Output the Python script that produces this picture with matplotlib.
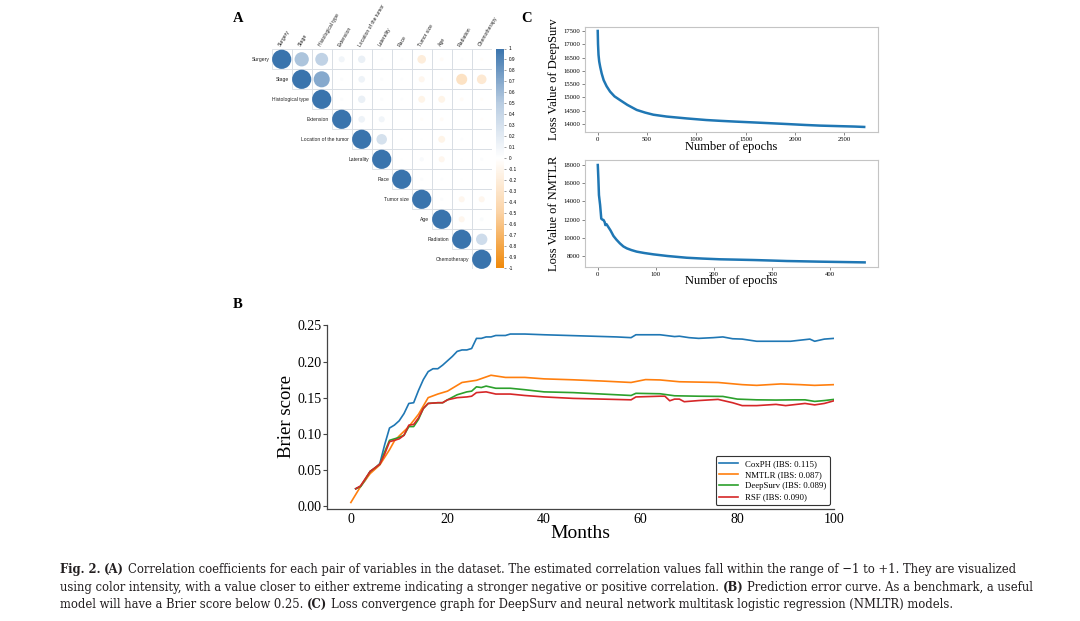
import numpy as np
import matplotlib
matplotlib.use("Agg")
import matplotlib.pyplot as plt
from matplotlib.colors import LinearSegmentedColormap, Normalize
from matplotlib.patches import Circle, Rectangle
import matplotlib.cm as cm

plt.rcParams['font.family'] = ['Liberation Serif', 'DejaVu Serif']

W, H = 1080, 621

# ---------------- data ----------------
# panel A: upper triangle of the correlation matrix, row by row
variables = ["Surgery", "Stage", "Histological type", "Extension", "Location of the tumor",
             "Laterality", "Race", "Tumor size", "Age", "Radiation", "Chemotherapy"]
corr_upper = [
    [1, 0.55, 0.45, 0.10, 0.15, 0.02, 0.02, -0.20, -0.04, 0.02, -0.03],
    [1, 0.70, 0.03, 0.12, 0.03, 0.02, -0.10, -0.03, -0.33, -0.25],
    [1, 0.03, 0.15, 0.03, 0.02, -0.13, -0.13, -0.04, -0.03],
    [1, 0.12, 0.10, 0.00, -0.03, -0.04, 0.00, -0.02],
    [1, 0.30, 0.01, 0.01, -0.13, 0.02, 0.00],
    [1, 0.01, 0.05, -0.10, 0.01, 0.03],
    [1, 0.03, 0.02, 0.01, 0.00],
    [1, 0.03, -0.10, -0.10],
    [1, -0.10, 0.04],
    [1, 0.35],
    [1],
]
cb_ticks = [1, 0.9, 0.8, 0.7, 0.6, 0.5, 0.4, 0.3, 0.2, 0.1, 0, -0.1, -0.2, -0.3, -0.4,
            -0.5, -0.6, -0.7, -0.8, -0.9, -1]
cb_labels = ["1", "0.9", "0.8", "0.7", "0.6", "0.5", "0.4", "0.3", "0.2", "0.1", "0",
             "-0.1", "-0.2", "-0.3", "-0.4", "-0.5", "-0.6", "-0.7", "-0.8", "-0.9", "-1"]

# panel B: Brier score curves
cox_months = [1, 2, 3, 4, 5, 6, 7, 8, 9, 10, 11, 12, 13, 14, 15, 16, 17, 18, 19, 20,
              21, 22, 23, 24, 25, 26, 27, 28, 29, 30, 32, 33, 36, 40, 45, 50, 55, 58,
              59, 60, 64, 67, 68, 70, 72, 75, 77, 79, 81, 84, 88, 91, 95, 96, 98, 100]
cox_bs = [0.024, 0.027, 0.036, 0.048, 0.052, 0.059, 0.085, 0.108, 0.112, 0.118, 0.128,
          0.142, 0.143, 0.160, 0.175, 0.186, 0.190, 0.190, 0.195, 0.201, 0.207, 0.214,
          0.216, 0.216, 0.218, 0.232, 0.232, 0.234, 0.234, 0.236, 0.236, 0.238, 0.238,
          0.237, 0.236, 0.235, 0.234, 0.233, 0.237, 0.237, 0.237, 0.2345, 0.235, 0.233,
          0.232, 0.233, 0.234, 0.2315, 0.231, 0.228, 0.228, 0.228, 0.231, 0.228, 0.231,
          0.232]
nmtlr_months = [0, 2, 4, 6, 8, 9, 10, 12, 14, 16, 18, 20, 22, 23, 26, 29, 32, 36, 40,
                46, 52, 58, 61, 64, 68, 72, 76, 81, 84, 89, 93, 96, 100]
nmtlr_bs = [0.005, 0.027, 0.045, 0.057, 0.078, 0.090, 0.097, 0.110, 0.127, 0.150, 0.155,
            0.159, 0.167, 0.171, 0.174, 0.181, 0.178, 0.178, 0.176, 0.1747, 0.173, 0.171,
            0.175, 0.1745, 0.172, 0.1715, 0.171, 0.168, 0.167, 0.169, 0.168, 0.167, 0.168]
ds_months = [1, 2, 4, 6, 7, 8, 10, 11, 12, 13, 14, 15, 16, 18, 19, 20, 22, 24, 25, 26,
             27, 28, 30, 33, 36, 40, 46, 52, 58, 59, 64, 67, 72, 77, 80, 84, 88, 92, 94,
             96, 98, 100]
ds_bs = [0.024, 0.027, 0.048, 0.058, 0.075, 0.091, 0.095, 0.098, 0.110, 0.110, 0.120,
         0.135, 0.142, 0.143, 0.143, 0.147, 0.154, 0.158, 0.159, 0.165, 0.164, 0.166,
         0.163, 0.163, 0.161, 0.158, 0.157, 0.155, 0.153, 0.156, 0.1554, 0.1526, 0.152,
         0.1517, 0.148, 0.147, 0.1467, 0.147, 0.147, 0.1448, 0.146, 0.1476]
rsf_months = [1, 2, 4, 6, 7, 8, 10, 11, 12, 13, 14, 15, 16, 18, 19, 20, 22, 24, 25, 26,
              28, 30, 33, 36, 40, 46, 52, 58, 59, 64, 65, 66, 67, 68, 69, 72, 76, 79, 81,
              84, 88, 90, 94, 96, 98, 100]
rsf_bs = [0.024, 0.028, 0.048, 0.058, 0.072, 0.089, 0.093, 0.098, 0.112, 0.113, 0.122,
          0.135, 0.142, 0.143, 0.143, 0.147, 0.150, 0.151, 0.152, 0.157, 0.158, 0.155,
          0.155, 0.153, 0.151, 0.149, 0.148, 0.147, 0.151, 0.152, 0.152, 0.1457, 0.148,
          0.148, 0.1444, 0.146, 0.1476, 0.143, 0.139, 0.139, 0.1407, 0.139, 0.142, 0.140,
          0.142, 0.1457]
model_labels = ["CoxPH (IBS: 0.115)", "NMTLR (IBS: 0.087)", "DeepSurv (IBS: 0.089)",
                "RSF (IBS: 0.090)"]
brier_ticks = [0.00, 0.05, 0.10, 0.15, 0.20, 0.25]
month_ticks = [0, 20, 40, 60, 80, 100]

# panel C: loss curves
ds_epochs = [0, 3, 8, 15, 25, 40, 60, 90, 125, 170, 226, 300, 395, 480, 564, 700, 902,
             1100, 1240, 1400, 1578, 1750, 1916, 2100, 2254, 2450, 2600, 2700]
ds_loss = [17500, 17000, 16600, 16350, 16150, 15900, 15650, 15420, 15220, 15040, 14900,
           14720, 14530, 14430, 14350, 14280, 14210, 14150, 14120, 14090, 14060, 14030,
           14000, 13965, 13940, 13920, 13905, 13890]
nm_epochs = [0, 1, 2, 4, 6, 8, 10, 12, 13, 15, 18, 22, 27, 32, 38, 44, 50, 58, 67, 80,
             96, 120, 153, 180, 210, 240, 268, 300, 325, 350, 381, 420, 459]
nm_loss = [18000, 16500, 14700, 13600, 12100, 12000, 11950, 11700, 11400, 11500, 11200,
           10800, 10200, 9800, 9390, 9050, 8840, 8650, 8480, 8330, 8180, 8000, 7810, 7720,
           7640, 7600, 7560, 7500, 7450, 7420, 7380, 7340, 7300]

caption = [
    [("Fig. 2.", True), ("(A)", True),
     ("Correlation coefficients for each pair of variables in the dataset. The estimated "
      "correlation values fall within the range of \u22121 to +1. They are visualized", False)],
    [("using color intensity, with a value closer to either extreme indicating a stronger "
      "negative or positive correlation.", False), ("(B)", True),
     ("Prediction error curve. As a benchmark, a useful", False)],
    [("model will have a Brier score below 0.25.", False), ("(C)", True),
     ("Loss convergence graph for DeepSurv and neural network multitask logistic "
      "regression (NMLTR) models.", False)],
]


def box(l, t, r, b):
    return [l / W, 1 - b / H, (r - l) / W, (b - t) / H]


fig = plt.figure(figsize=(10.8, 6.21), dpi=100)
fig.patch.set_facecolor('white')

# ---------------- panel A ----------------
cmap_corr = LinearSegmentedColormap.from_list('bo', ['#f08a0c', '#fbd3a6', '#ffffff', '#b9cde2', '#3a74ad'])
axA = fig.add_axes(box(271.7, 49.3, 491.7, 269.3))
axA.set_xlim(0, 11)
axA.set_ylim(11, 0)
axA.axis('off')
for i, row in enumerate(corr_upper):
    for k, r in enumerate(row):
        j = i + k
        axA.add_patch(Rectangle((j, i), 1, 1, fill=False, ec='#d9dee4', lw=0.6))
        if r != 0:
            axA.add_patch(Circle((j + 0.5, i + 0.5), 0.48 * np.sqrt(abs(r)),
                                 fc=cmap_corr((r + 1) / 2), ec='none'))
    axA.text(i - 0.12, i + 0.5, variables[i], ha='right', va='center', fontsize=3.6,
             family='Liberation Sans', color='#222222')
    axA.text(i + 0.5, -0.1, variables[i], rotation=60, rotation_mode='anchor', ha='left',
             va='bottom', fontsize=3.6, family='Liberation Sans', color='#222222')

axCb = fig.add_axes(box(495.7, 48.5, 504.3, 267.5))
cb = fig.colorbar(cm.ScalarMappable(norm=Normalize(-1, 1), cmap=cmap_corr), cax=axCb,
                  ticks=cb_ticks)
cb.ax.set_yticklabels(cb_labels)
cb.ax.tick_params(labelsize=3.4, length=1.5, width=0.4, pad=1.5, color='#555555')
for lab in cb.ax.get_yticklabels():
    lab.set_family('Liberation Sans')
cb.outline.set_visible(False)

# ---------------- panel B ----------------
axB = fig.add_axes(box(326.7, 325, 834, 509))
series = [(cox_months, cox_bs, '#1f77b4'), (nmtlr_months, nmtlr_bs, '#ff7f0e'),
          (ds_months, ds_bs, '#2ca02c'), (rsf_months, rsf_bs, '#d62728')]
for (mx, my, c), lab in zip(series, model_labels):
    axB.plot(mx, my, color=c, lw=1.2, label=lab)
axB.set_xlim(-5, 100)
axB.set_ylim(-0.004, 0.2505)
axB.set_xticks(month_ticks)
axB.set_yticks(brier_ticks)
axB.set_yticklabels([f"{v:.2f}" for v in brier_ticks])
for s in ['top', 'right']:
    axB.spines[s].set_visible(False)
for s in ['left', 'bottom']:
    axB.spines[s].set_color('#444444')
    axB.spines[s].set_linewidth(0.9)
axB.tick_params(axis='y', labelsize=10, length=3, width=0.8, pad=1, color='#444444')
axB.tick_params(axis='x', labelsize=10, length=0, pad=3)
axB.set_ylabel('Brier score', fontsize=13.5)
axB.yaxis.set_label_coords(-0.062, 0.5)
axB.set_xlabel('Months', fontsize=14)
axB.xaxis.set_label_coords(0.5, -0.085)
leg = axB.legend(loc='lower right', fontsize=6.3, handlelength=2.2, labelspacing=0.35,
                 borderaxespad=0.45, framealpha=1, fancybox=True)
leg.get_frame().set_edgecolor('#333333')
leg.get_frame().set_linewidth(0.8)


# ---------------- panel C ----------------
def loss_axes(rect, x, y, ylabel, xticks, yticks, xlim, ylim, xlab_y):
    ax = fig.add_axes(box(*rect))
    ax.plot(x, y, color='#1f77b4', lw=1.8)
    for s in ax.spines.values():
        s.set_color('#c4c4c4')
        s.set_linewidth(0.8)
    ax.set_xlim(xlim)
    ax.set_ylim(ylim)
    ax.set_xticks(xticks)
    ax.set_yticks(yticks)
    ax.tick_params(labelsize=4.8, length=2, width=0.5, pad=1.5, color='#555555')
    ax.set_ylabel(ylabel, fontsize=9)
    ax.yaxis.set_label_coords(-0.085, 0.5)
    ax.set_xlabel('Number of epochs', fontsize=9)
    ax.xaxis.set_label_coords(0.5, xlab_y)
    return ax


loss_axes((585, 26.7, 878, 132), ds_epochs, ds_loss, 'Loss Value of DeepSurv',
          [0, 500, 1000, 1500, 2000, 2500], [14000, 14500, 15000, 15500, 16000, 16500, 17000, 17500],
          (-129, 2840), (13700, 17660), -0.09)
loss_axes((585, 160, 878, 267.3), nm_epochs, nm_loss, 'Loss Value of NMTLR',
          [0, 100, 200, 300, 400], [8000, 10000, 12000, 14000, 16000, 18000],
          (-22, 482), (6760, 18550), -0.075)

# panel letters
for letter, (px, py) in zip("ACB", [(238, 18), (527, 18), (238, 305)]):
    fig.text(px / W, 1 - py / H, letter, fontsize=10.5, fontweight='bold', ha='center',
             va='center', family='Liberation Serif')

# ---------------- caption ----------------
# each line is drawn as a few runs of text (bold / regular) placed one after the other
renderer = fig.canvas.get_renderer()
x0, x1 = 59.5, 1033
baselines = [572.7, 591, 608.3]
cap_style = dict(family='DejaVu Serif', fontstretch='condensed', color='#231f20', va='baseline')


def run_widths(segs, fs):
    out = []
    for txt, bold in segs:
        t = fig.text(0, 0, txt, fontsize=fs, fontweight='bold' if bold else 'normal', **cap_style)
        out.append(t.get_window_extent(renderer).width)
        t.remove()
    return out


# pick the size so that the two full lines both fit between x0 and x1
sp10 = 0.32 * 10 * 100 / 72
line_w = [sum(w) + sp10 * (len(w) - 1) for w in (run_widths(caption[0], 10), run_widths(caption[1], 10))]
cap_fs = 10 * (x1 - x0) / max(line_w)
space = 0.32 * cap_fs * 100 / 72
for segs, yb in zip(caption, baselines):
    x = x0
    for (txt, bold), w in zip(segs, run_widths(segs, cap_fs)):
        fig.text(x / W, 1 - yb / H, txt, fontsize=cap_fs, fontweight='bold' if bold else 'normal',
                 **cap_style)
        x += w + space

fig.savefig('out.png', dpi=100)
